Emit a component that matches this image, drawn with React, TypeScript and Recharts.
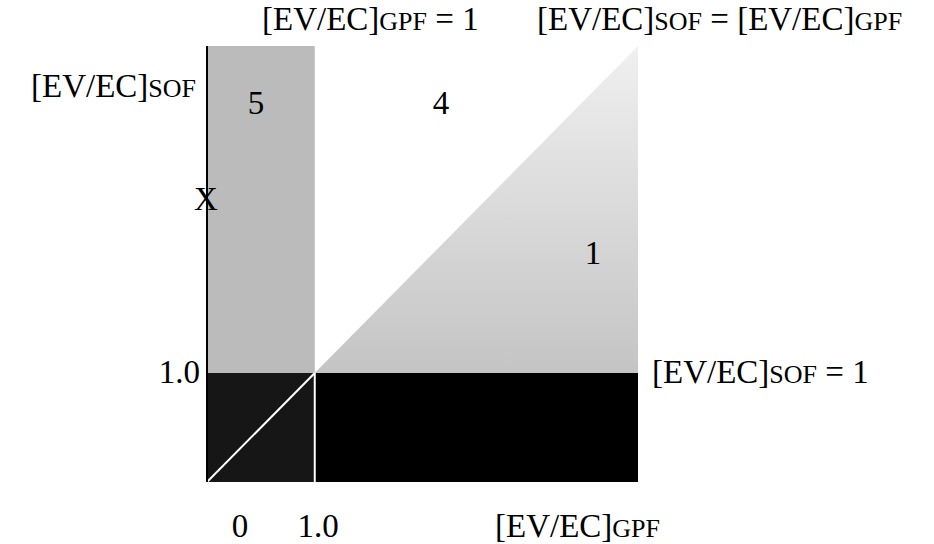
import { ComposedChart, Area, Line, XAxis, YAxis } from 'recharts';

// axis ranges (EV/EC for GPF on x, SOF on y)
const xDomain = [0, 4];
const yDomain = [0, 4];

// regions of the map
const region5 = [{ x: 0, y: 4 }, { x: 1, y: 4 }]; // GPF < 1, SOF > 1 (base 1)
const region1 = [{ x: 1, y: 1 }, { x: 4, y: 4 }]; // SOF < GPF (base 1)
const lowBandLeft = [{ x: 0, y: 1 }, { x: 1, y: 1 }]; // both < 1 (base 0)
const lowBandRight = [{ x: 1, y: 1 }, { x: 4, y: 1 }]; // SOF < 1 (base 0)

// lines
const equalLineLow = [{ x: 0, y: 0 }, { x: 1, y: 1 }];
const gpfOneLow = [{ x: 1, y: 0 }, { x: 1, y: 1 }];
const sofAxis = [{ x: 0, y: 0 }, { x: 0, y: 4 }];

const FONT = '"Liberation Serif", "Times New Roman", serif';
const BIG = 33;
const SMALL = 26;

function Ev({ sub }: { sub: string }) {
  return (
    <>
      <tspan fontSize={BIG}>[EV/EC]</tspan>
      <tspan fontSize={SMALL}>{sub}</tspan>
    </>
  );
}

export default function App() {
  return (
    <div style={{ position: 'absolute', left: 0, top: 0, width: 934, height: 544, background: '#fff' }}>
      <ComposedChart
        width={934}
        height={544}
        margin={{ top: 46, right: 296, bottom: 62, left: 207 }}
      >
        <defs>
          <linearGradient id="triFill" x1="0" y1="1" x2="0" y2="0">
            <stop offset="0%" stopColor="#c4c4c4" />
            <stop offset="100%" stopColor="#f0f0f0" />
          </linearGradient>
        </defs>
        <XAxis type="number" dataKey="x" domain={xDomain} hide />
        <YAxis type="number" dataKey="y" domain={yDomain} hide />
        <Area data={region5} dataKey="y" baseValue={1} type="linear" stroke="none" fill="#bbbbbb" fillOpacity={1} isAnimationActive={false} />
        <Area data={region1} dataKey="y" baseValue={1} type="linear" stroke="none" fill="url(#triFill)" fillOpacity={1} isAnimationActive={false} />
        <Area data={lowBandLeft} dataKey="y" baseValue={0} type="linear" stroke="none" fill="#161616" fillOpacity={1} isAnimationActive={false} />
        <Area data={lowBandRight} dataKey="y" baseValue={0} type="linear" stroke="none" fill="#000" fillOpacity={1} isAnimationActive={false} />
        <Line data={equalLineLow} dataKey="y" type="linear" stroke="#fff" strokeWidth={2} dot={false} isAnimationActive={false} />
        <Line data={gpfOneLow} dataKey="y" type="linear" stroke="#fff" strokeWidth={2} dot={false} isAnimationActive={false} />
        <Line data={sofAxis} dataKey="y" type="linear" stroke="#000" strokeWidth={2} dot={false} isAnimationActive={false} />
      </ComposedChart>
      <svg
        width={934}
        height={544}
        style={{ position: 'absolute', left: 0, top: 0, pointerEvents: 'none' }}
        fontFamily={FONT}
        fill="#000"
      >
        <text x={262} y={30}><Ev sub="GPF" /><tspan fontSize={BIG}> = 1</tspan></text>
        <text x={537} y={30}><Ev sub="SOF" /><tspan fontSize={BIG}> = </tspan><Ev sub="GPF" /></text>
        <text x={31} y={97}><Ev sub="SOF" /></text>
        <text x={256} y={114} fontSize={BIG} textAnchor="middle">5</text>
        <text x={441} y={114} fontSize={BIG} textAnchor="middle">4</text>
        <text x={206} y={210} fontSize={BIG} textAnchor="middle">X</text>
        <text x={593} y={264} fontSize={BIG} textAnchor="middle">1</text>
        <text x={200} y={383} fontSize={BIG} textAnchor="end">1.0</text>
        <text x={652} y={383}><Ev sub="SOF" /><tspan fontSize={BIG}> = 1</tspan></text>
        <text x={240} y={537} fontSize={BIG} textAnchor="middle">0</text>
        <text x={318} y={537} fontSize={BIG} textAnchor="middle">1.0</text>
        <text x={495} y={537}><Ev sub="GPF" /></text>
      </svg>
    </div>
  );
}
